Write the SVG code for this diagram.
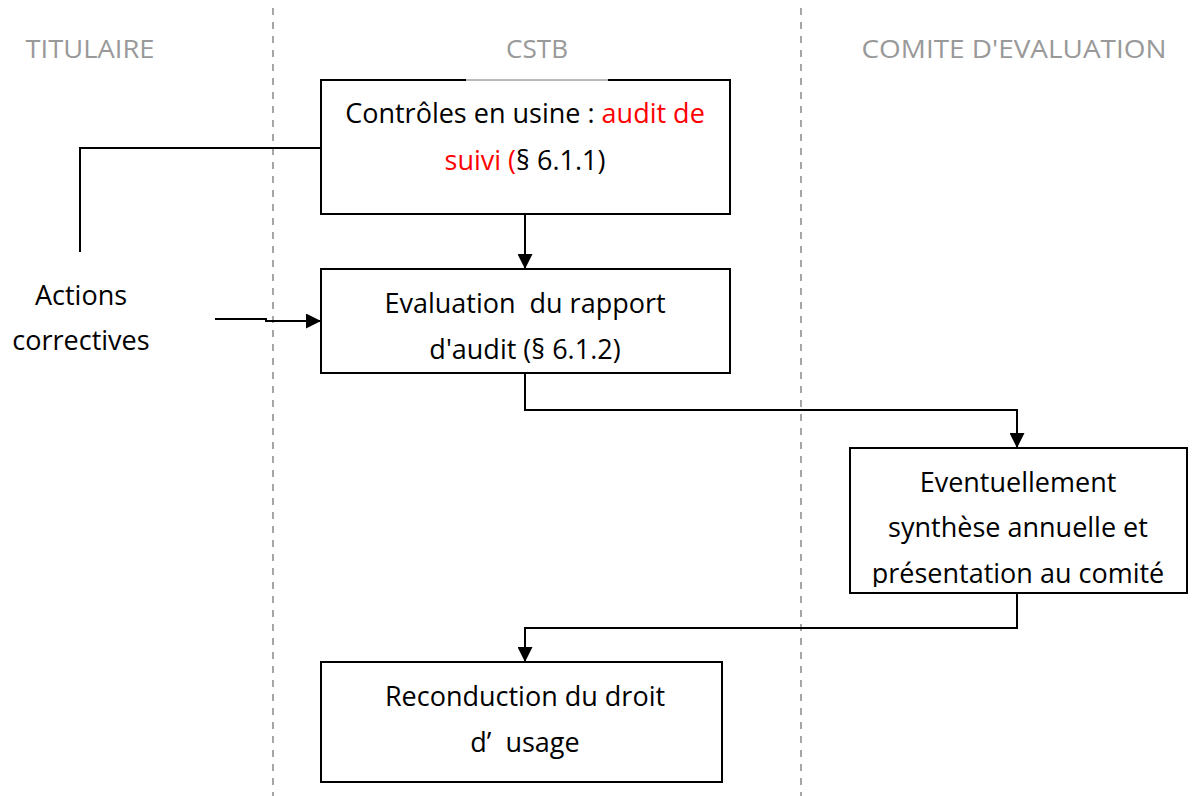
<svg xmlns="http://www.w3.org/2000/svg" width="1193" height="796" viewBox="0 0 1193 796">
<style>
.lane{stroke:#a6a6a6;stroke-width:2;stroke-dasharray:7 7;fill:none}
.hdr{font-family:"Open Sans","Noto Sans",sans-serif;font-size:26px;fill:#999;text-anchor:middle}
.box{fill:#fff;stroke:#000;stroke-width:2}
.t{font-family:"Open Sans","Noto Sans",sans-serif;font-size:27px;fill:#000;text-anchor:middle}
.red{fill:#ff0000}
.c{fill:none;stroke:#000;stroke-width:2}
</style>
<defs>
<marker id="ah" markerWidth="15" markerHeight="15" refX="15" refY="7.5" viewBox="0 0 15 15" orient="auto" markerUnits="userSpaceOnUse">
<path d="M0,0 L15,7.5 L0,15 Z" fill="#000"/>
</marker>
<clipPath id="clip3"><rect x="850" y="449" width="337" height="138"/></clipPath>
</defs>
<rect width="1193" height="796" fill="#fff"/>
<g id="lanes">
<line class="lane" x1="273" y1="8" x2="273" y2="796"/>
<line class="lane" x1="801" y1="8" x2="801" y2="796"/>
<text class="hdr" x="90" y="58" textLength="129" lengthAdjust="spacingAndGlyphs">TITULAIRE</text>
<text class="hdr" x="537" y="58" textLength="62" lengthAdjust="spacingAndGlyphs">CSTB</text>
<text class="hdr" x="1014" y="58" textLength="305" lengthAdjust="spacingAndGlyphs">COMITE D'EVALUATION</text>
</g>
<g id="connectors">
<polyline class="c" points="321,148 80,148 80,252"/>
<polyline class="c" points="215,319 266,319 266,321 321,321" marker-end="url(#ah)"/>
<line class="c" x1="525" y1="214" x2="525" y2="269" marker-end="url(#ah)"/>
<polyline class="c" points="525,373 525,410 1017,410 1017,448" marker-end="url(#ah)"/>
<polyline class="c" points="1017,593 1017,628 525,628 525,662" marker-end="url(#ah)"/>
</g>
<g id="node-controles">
<rect class="box" x="321" y="80" width="409" height="134"/>
<line x1="466" y1="80" x2="608" y2="80" stroke="#fff" stroke-width="3"/>
<line x1="466" y1="80" x2="608" y2="80" stroke="#777" stroke-width="1"/>
<text class="t" x="525" y="123">Contrôles en usine : <tspan class="red">audit de</tspan></text>
<text class="t" x="525" y="170"><tspan class="red">suivi (</tspan>§ 6.1.1)</text>
</g>
<g id="node-evaluation">
<rect class="box" x="321" y="269" width="409" height="104"/>
<text class="t" x="525" y="313" xml:space="preserve">Evaluation  du rapport</text>
<text class="t" x="525" y="359">d'audit (§ 6.1.2)</text>
</g>
<g id="node-actions">
<text class="t" x="81" y="305">Actions</text>
<text class="t" x="81" y="350">correctives</text>
</g>
<g id="node-synthese">
<rect class="box" x="850" y="448" width="337" height="145"/>
<g clip-path="url(#clip3)">
<text class="t" x="1018" y="492">Eventuellement</text>
<text class="t" x="1018" y="537">synthèse annuelle et</text>
<text class="t" x="1018" y="583">présentation au comité</text>
</g>
</g>
<g id="node-reconduction">
<rect class="box" x="321" y="662" width="401" height="120"/>
<text class="t" x="525" y="706">Reconduction du droit</text>
<text class="t" x="525" y="752" xml:space="preserve">d’  usage</text>
</g>
</svg>
